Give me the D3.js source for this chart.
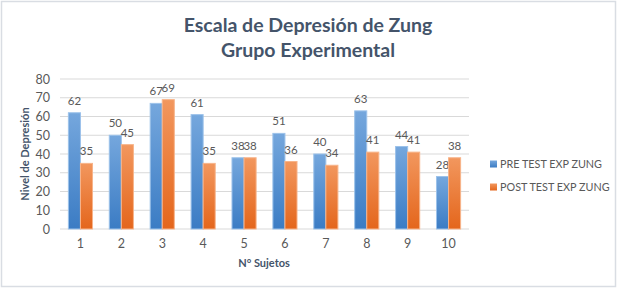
<!DOCTYPE html>
<html>
<head>
<meta charset="utf-8">
<script src="https://cdn.jsdelivr.net/npm/d3@7"></script>
<style>
  body { margin: 0; background: #fff; }
  svg { display: block; font-family: Lato, "Open Sans", sans-serif; }
</style>
</head>
<body>
<svg id="chart" width="617" height="288"></svg>
<script>
// data
const sujetos = ["1", "2", "3", "4", "5", "6", "7", "8", "9", "10"];
const preTest = [62, 50, 67, 61, 38, 51, 40, 63, 44, 28];
const postTest = [35, 45, 69, 35, 38, 36, 34, 41, 41, 38];
const seriesNames = ["PRE TEST EXP ZUNG", "POST TEST EXP ZUNG"];
const yTicks = [0, 10, 20, 30, 40, 50, 60, 70, 80];

const svg = d3.select("#chart");
const margin = { top: 79, left: 60, right: 148, bottom: 59 };
const W = 617, H = 288;
const width = W - margin.left - margin.right;
const height = H - margin.top - margin.bottom;

// outer frame
svg.append("rect")
    .attr("x", 1.5).attr("y", 1.5)
    .attr("width", W - 3).attr("height", H - 3)
    .attr("fill", "#fff")
    .attr("stroke", "#d9dde3")
    .attr("stroke-width", 1.5);

// gradients for the bars
const defs = svg.append("defs");
const grads = [["gBlue", "#75a7dd", "#3b7cc4"], ["gOrange", "#f2975e", "#e4661c"]];
grads.forEach(g => {
    const lg = defs.append("linearGradient").attr("id", g[0])
        .attr("x1", 0).attr("y1", 0).attr("x2", 0).attr("y2", 1);
    lg.append("stop").attr("offset", "0%").attr("stop-color", g[1]);
    lg.append("stop").attr("offset", "100%").attr("stop-color", g[2]);
});

// title
const title = svg.append("text")
    .attr("text-anchor", "middle")
    .attr("fill", "#44546a")
    .style("font-size", "19.5px")
    .style("font-weight", "bold");
title.append("tspan").attr("x", 308).attr("y", 32).text("Escala de Depresión de Zung");
title.append("tspan").attr("x", 308).attr("y", 57).text("Grupo Experimental");

const g = svg.append("g").attr("transform", `translate(${margin.left},${margin.top})`);

const x = d3.scaleBand().domain(sujetos).range([0, width]).paddingInner(0.41).paddingOuter(0.205);
const xs = d3.scaleBand().domain([0, 1]).range([0, x.bandwidth()]);
const y = d3.scaleLinear().domain([0, 80]).range([height, 0]);

// gridlines
g.append("g")
    .selectAll("line")
    .data(yTicks)
    .join("line")
    .attr("x1", 0).attr("x2", width)
    .attr("y1", d => y(d)).attr("y2", d => y(d))
    .attr("stroke", "#d9d9d9")
    .attr("stroke-width", 1);

// y axis labels
const yAxis = g.append("g")
    .call(d3.axisLeft(y).tickValues(yTicks).tickSize(0).tickPadding(10));
yAxis.select(".domain").remove();
yAxis.selectAll("text")
    .attr("fill", "#595959")
    .style("font-size", "12.5px")
    .style("font-family", "Lato, sans-serif");

// x axis labels
const xAxis = g.append("g")
    .attr("transform", `translate(0,${height})`)
    .call(d3.axisBottom(x).tickSize(0).tickPadding(10));
xAxis.select(".domain").remove();
xAxis.selectAll("text")
    .attr("fill", "#595959")
    .style("font-size", "12.5px")
    .style("font-family", "Lato, sans-serif");

const series = [preTest, postTest];
const fills = ["url(#gBlue)", "url(#gOrange)"];
const strokes = ["#9cc2ea", "#f7b48a"];

series.forEach((vals, s) => {
    const grp = g.append("g");
    grp.selectAll("rect")
        .data(vals)
        .join("rect")
        .attr("x", (d, i) => x(sujetos[i]) + xs(s))
        .attr("y", d => y(d))
        .attr("width", xs.bandwidth())
        .attr("height", d => height - y(d))
        .attr("fill", fills[s])
        .attr("stroke", strokes[s])
        .attr("stroke-width", 1);
    grp.selectAll("text")
        .data(vals)
        .join("text")
        .attr("x", (d, i) => x(sujetos[i]) + xs(s) + xs.bandwidth() / 2)
        .attr("y", d => y(d) - 8)
        .attr("text-anchor", "middle")
        .attr("fill", "#595959")
        .style("font-size", "11.5px")
        .text(d => d);
});

// axis titles
svg.append("text")
    .attr("x", 264)
    .attr("y", 267)
    .attr("text-anchor", "middle")
    .attr("fill", "#44546a")
    .style("font-size", "11px")
    .style("font-weight", "bold")
    .text("N° Sujetos");

svg.append("text")
    .attr("transform", `translate(29,${margin.top + height / 2}) rotate(-90)`)
    .attr("text-anchor", "middle")
    .attr("fill", "#44546a")
    .style("font-size", "11px")
    .style("font-weight", "bold")
    .text("Nivel de Depresión");

// legend
const legend = svg.append("g").attr("transform", "translate(490,164)");
seriesNames.forEach((name, i) => {
    const row = legend.append("g").attr("transform", `translate(0,${i * 23})`);
    row.append("rect")
        .attr("x", 0).attr("y", -3.5)
        .attr("width", 7).attr("height", 7)
        .attr("fill", fills[i]);
    row.append("text")
        .attr("x", 10).attr("y", 4)
        .attr("fill", "#595959")
        .style("font-size", "10.8px")
        .text(name);
});
</script>
</body>
</html>
